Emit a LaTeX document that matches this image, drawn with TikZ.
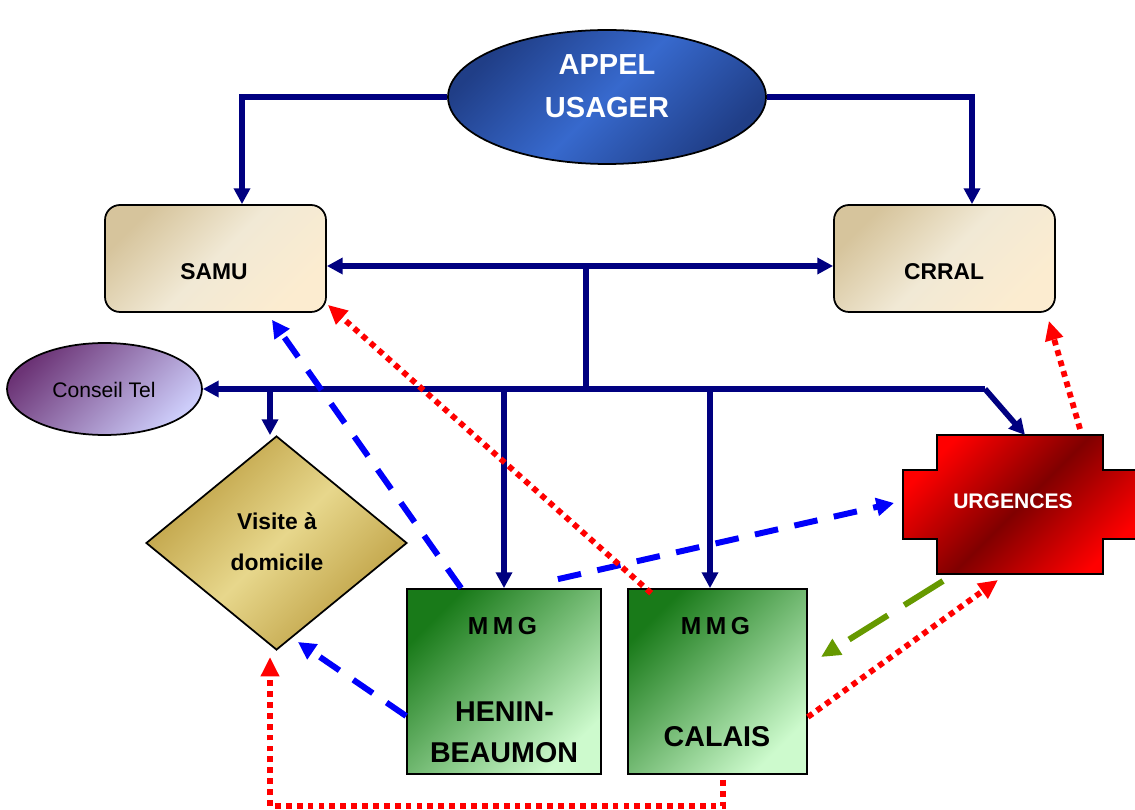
\documentclass[tikz,border=0pt]{standalone}
\usepackage{fontspec}
\setmainfont{Liberation Sans}
\usetikzlibrary{arrows.meta,shapes.geometric,calc}
\definecolor{navyc}{RGB}{0,0,128}
\definecolor{bluec}{RGB}{0,0,250}
\definecolor{redc}{RGB}{255,0,0}
\definecolor{greenc}{RGB}{102,153,0}
\definecolor{appD}{RGB}{32,62,135}
\definecolor{appL}{RGB}{55,105,205}
\definecolor{tanA}{RGB}{214,196,156}
\definecolor{tanB}{RGB}{241,233,213}
\definecolor{tanC}{RGB}{252,236,208}
\definecolor{purA}{RGB}{108,52,118}
\definecolor{purB}{RGB}{205,205,250}
\definecolor{golD}{RGB}{196,168,78}
\definecolor{golL}{RGB}{231,215,140}
\definecolor{grnA}{RGB}{25,122,25}
\definecolor{grnB}{RGB}{205,250,205}
\definecolor{urgL}{RGB}{255,0,0}
\definecolor{urgD}{RGB}{128,0,0}
\pgfdeclarehorizontalshading{appelsh}{100bp}{color(0bp)=(appD); color(25bp)=(appD); color(50bp)=(appL); color(75bp)=(appD); color(100bp)=(appD)}
\pgfdeclarehorizontalshading{tansh}{100bp}{color(0bp)=(tanA); color(25bp)=(tanA); color(50bp)=(tanB); color(75bp)=(tanC); color(100bp)=(tanC)}
\pgfdeclarehorizontalshading{pursh}{100bp}{color(0bp)=(purA); color(25bp)=(purA); color(75bp)=(purB); color(100bp)=(purB)}
\pgfdeclarehorizontalshading{golsh}{100bp}{color(0bp)=(golD); color(30bp)=(golD); color(50bp)=(golL); color(70bp)=(golD); color(100bp)=(golD)}
\pgfdeclarehorizontalshading{grnsh}{100bp}{color(0bp)=(grnA); color(25bp)=(grnA); color(75bp)=(grnB); color(100bp)=(grnB)}
\pgfdeclarehorizontalshading{urgsh}{100bp}{color(0bp)=(urgL); color(25bp)=(urgL); color(50bp)=(urgD); color(75bp)=(urgL); color(100bp)=(urgL)}
\begin{document}
\begin{tikzpicture}[x=0.02cm,y=-0.02cm,
  border/.style={draw=black, line width=1pt},
  navyline/.style={draw=navyc, line width=3.2pt},
  navyarr/.style={navyline, -{Triangle[length=9pt,width=9pt]}},
  bluedash/.style={draw=bluec, line width=3.4pt, dash pattern=on 13.5pt off 9.5pt, -{Triangle[length=10pt,width=10pt]}},
  reddot/.style={draw=redc, line width=3.3pt, dash pattern=on 3.3pt off 2.9pt, -{Triangle[length=11pt,width=10pt]}},
  greendash/.style={draw=greenc, line width=3.4pt, dash pattern=on 26pt off 11pt, -{Triangle[length=11pt,width=10pt]}},
  txt/.style={anchor=base, inner sep=0pt, font=\bfseries\fontsize{13}{15}\selectfont},
  bigtxt/.style={anchor=base, inner sep=0pt, font=\bfseries\fontsize{16.3}{19}\selectfont},
]
\useasboundingbox (0,0) rectangle (1135,810);

% shapes
\node[border, ellipse, inner sep=0pt, minimum width=6.36cm, minimum height=2.68cm, shading=appelsh, shading angle=-45] (appel) at (607,97) {};
\node[border, rounded corners=8.5pt, minimum width=4.42cm, minimum height=2.14cm, shading=tansh, shading angle=-45] (samu) at (215.5,258.5) {};
\node[border, rounded corners=8.5pt, minimum width=4.42cm, minimum height=2.14cm, shading=tansh, shading angle=-45] (crral) at (944.5,258.5) {};
\node[border, ellipse, inner sep=0pt, minimum width=3.9cm, minimum height=1.84cm, shading=pursh, shading angle=-45] (conseil) at (104.5,389) {};
\node[border, diamond, inner sep=0pt, minimum width=5.22cm, minimum height=4.28cm, shading=golsh, shading angle=-45] (diam) at (276.5,543) {};
\node[border, minimum width=3.88cm, minimum height=3.7cm, shading=grnsh, shading angle=-45] (henin) at (504,681.5) {};
\node[border, minimum width=3.58cm, minimum height=3.7cm, shading=grnsh, shading angle=-45] (calais) at (717.5,681.5) {};
\path[border, shading=urgsh, shading angle=-45] (937,435) -- (1103,435) -- (1103,470) -- (1140,470) -- (1140,539) -- (1103,539) -- (1103,574) -- (937,574) -- (937,539) -- (903,539) -- (903,470) -- (937,470) -- cycle;

% texts
\node[txt, font=\bfseries\fontsize{16.5}{19}\selectfont, text=white] (t1) at (607,75) {APPEL};
\node[txt, font=\bfseries\fontsize{16.5}{19}\selectfont, text=white] (t2) at (607,118) {USAGER};
\node[txt] (t3) at (214,280) {SAMU};
\node[txt] (t4) at (944,280) {CRRAL};
\node[txt, font=\fontsize{12}{14}\selectfont] (t5) at (104,398) {Conseil Tel};
\node[txt, font=\bfseries\fontsize{12}{14}\selectfont, text=white] (urg) at (1013,508) {URGENCES};
\node[txt] (t6) at (277,529) {Visite à};
\node[txt] (t7) at (277,570) {domicile};
\node[txt, font=\bfseries\fontsize{14}{16}\selectfont] (t8) at (502.5,634) {M\kern2.6pt M\kern2.6pt G};
\node[bigtxt] (t9) at (504.5,721) {HENIN-};
\node[bigtxt] (t10) at (504,762) {BEAUMON};
\node[txt, font=\bfseries\fontsize{14}{16}\selectfont] (t11) at (715.5,634) {M\kern2.6pt M\kern2.6pt G};
\node[bigtxt] (t12) at (717,746) {CALAIS};

% coordinates
\coordinate (j1) at (586,266);
\coordinate (j2) at (586,389);
\coordinate (busR) at (985,389);
\coordinate (bD) at (270,389);
\coordinate (urgN) at (1025,435);
\coordinate (urgW) at (894,503);
\coordinate (urgNE) at (1080,429);
\coordinate (urgS1) at (943,581);
\coordinate (urgS2) at (998,580);
\coordinate (greenEnd) at (821,657);
\coordinate (diamSE) at (298,642);
\coordinate (diamS) at (270,657);
\coordinate (dBot) at (270,806);

% navy connectors
\draw[navyarr] (appel.west) -| ([xshift=0.53cm]samu.north);
\draw[navyarr] (appel.east) -| ([xshift=0.55cm]crral.north);
\draw[navyline, {Triangle[length=9pt,width=9pt]}-{Triangle[length=9pt,width=9pt]}] ([yshift=-0.15cm]samu.east) -- ([yshift=-0.15cm]crral.west);
\draw[navyline] (j1) -- (j2);
\draw[navyarr] (busR) -- (busR -| conseil.east);
\draw[navyarr] (busR) -- (urgN);
\draw[navyarr] (bD) -- (bD |- diam.north);
\draw[navyarr] (henin.north |- j2) -- (henin.north);
\draw[navyarr] ([xshift=-0.15cm]calais.north |- j2) -- ([xshift=-0.15cm]calais.north);

% dashed / dotted connectors
\draw[bluedash] ([xshift=1.1cm]henin.north west) -- ([xshift=1.13cm,yshift=-0.14cm]samu.south);
\draw[bluedash] ([xshift=-0.88cm,yshift=0.18cm]henin.north east) -- (urgW);
\draw[bluedash] ([yshift=-0.69cm]henin.west) -- (diamSE);
\draw[reddot] ([xshift=0.48cm,yshift=-0.1cm]calais.north west) -- ([xshift=0.02cm,yshift=0.16cm]samu.south east);
\draw[reddot] (urgNE) -- ([xshift=-0.14cm,yshift=-0.16cm]crral.south east);
\draw[greendash] (urgS1) -- (greenEnd);
\draw[reddot] ([yshift=-0.71cm]calais.east) -- (urgS2);
\draw[reddot] ([xshift=0.11cm,yshift=-0.1cm]calais.south) |- (dBot) -- (diamS);
\end{tikzpicture}
\end{document}
